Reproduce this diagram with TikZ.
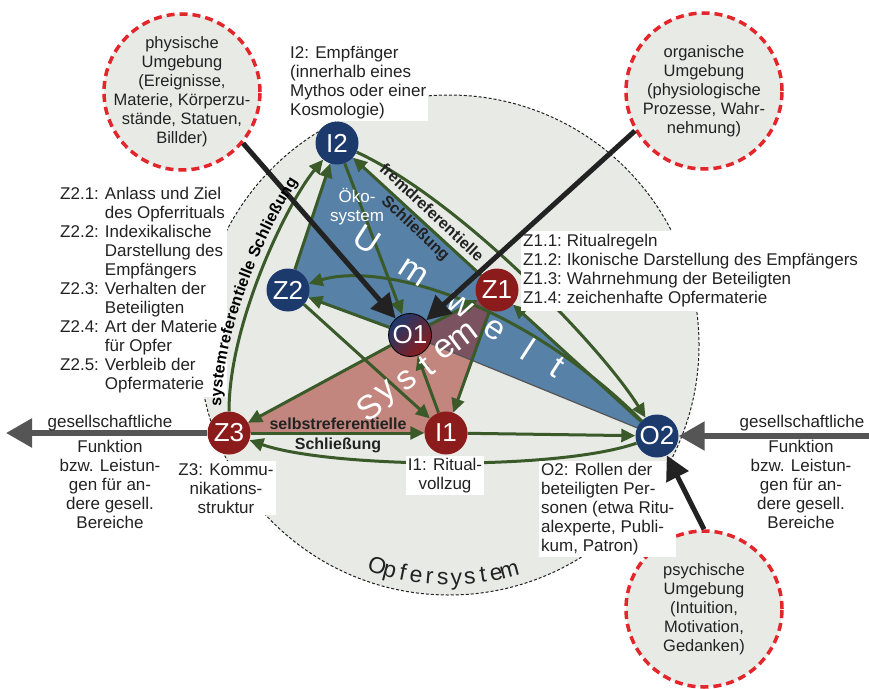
\documentclass[tikz,border=0pt]{standalone}
\usepackage{fontspec}
\setmainfont{Liberation Sans}
\usetikzlibrary{arrows.meta,calc,decorations.text}
\definecolor{nodeblue}{HTML}{1D3A6D}
\definecolor{nodered}{HTML}{8C1C1C}
\definecolor{arrowgreen}{HTML}{3A5A2A}
\definecolor{umweltblue}{HTML}{5781A7}
\definecolor{systemred}{HTML}{C2867E}
\definecolor{overlapred}{HTML}{7A5260}
\definecolor{bggrey}{HTML}{E8EAE6}
\definecolor{dashred}{HTML}{E3262B}
\definecolor{darkgrey}{HTML}{555555}
\definecolor{inkblack}{HTML}{222222}
\tikzstyle{sysnode} = [circle, minimum size=43pt, inner sep=0pt, text=white,
    font=\fontsize{26}{26}\selectfont]
\tikzstyle{envcircle} = [circle, draw=dashred, line width=3.5pt, dash pattern=on 8pt off 5pt,
    fill=bggrey, minimum size=156pt, inner sep=0pt]
\tikzstyle{envtext} = [align=center, text=inkblack, inner sep=0pt, font=\fontsize{16.5}{19}\selectfont]
\tikzstyle{flow} = [draw=arrowgreen, line width=3pt, -{Triangle[length=14pt,width=13pt]}]
\tikzstyle{envline} = [draw=inkblack, line width=5pt, -{Triangle[length=24pt,width=24pt]}]
\tikzstyle{funcline} = [draw=darkgrey, line width=5.5pt, -{Triangle[length=26pt,width=28pt]}]
\tikzstyle{labelbox} = [fill=white, inner sep=2pt, text=inkblack, font=\fontsize{17}{19}\selectfont]
\tikzstyle{sidetext} = [inner sep=2pt, text=inkblack, font=\fontsize{17}{19}\selectfont]
\tikzstyle{boldtext} = [inner sep=0pt, text=inkblack, font=\bfseries\fontsize{16}{20}\selectfont]
\tikzstyle{bigletter} = [text=white, inner sep=0pt, font=\fontsize{34}{34}\selectfont]
\tikzstyle{ringletter} = [text=inkblack, inner sep=0pt, font=\fontsize{23}{23}\selectfont]
\pgfdeclarelayer{bg}
\pgfsetlayers{bg,main}

\begin{document}
\begin{tikzpicture}[x=1pt,y=-1pt]
    \useasboundingbox (0,0) rectangle (869,688);
    % system nodes
    \node [sysnode, fill=nodeblue] (I2) at (337,143) {I2};
    \node [sysnode, fill=nodeblue] (Z2) at (288,290) {Z2};
    \node [sysnode, draw=black, line width=0.8pt, top color=nodeblue, bottom color=nodered,
        shading angle=45] (O1) at (410,335) {O1};
    \node [sysnode, fill=nodered] (Z1) at (497,290) {Z1};
    \node [sysnode, fill=nodered] (Z3) at (229,433) {Z3};
    \node [sysnode, fill=nodered] (I1) at (446,433) {I1};
    \node [sysnode, fill=nodeblue] (O2) at (657,436) {O2};
    % Opfersystem and the two regions
    \begin{pgfonlayer}{bg}
        \fill[bggrey] (449,345) circle (250pt);
        \draw[inkblack, line width=1pt, dash pattern=on 3pt off 2pt] (449,345) circle (250pt);
        \fill[umweltblue] (I2.center) -- (Z2.center) -- (O1.center) -- (O2.center) -- (Z1.center) -- cycle;
        \fill[systemred] (Z3.center) -- (O1.center) -- (Z1.center) -- (I1.center) -- cycle;
        \begin{scope}
            \clip (Z3.center) -- (O1.center) -- (Z1.center) -- (I1.center) -- cycle;
            \fill[overlapred] (I2.center) -- (Z2.center) -- (O1.center) -- (O2.center) -- (Z1.center) -- cycle;
        \end{scope}
        \draw[darkgrey, line width=1.2pt] (O1.center) -- (O2.center);
    \end{pgfonlayer}
    % Draw edges
    \draw[flow] (Z3) .. controls +(0,-110) and +(-50,60) .. (I2);
    \draw[flow] (Z2) -- (I2);
    \draw[flow] (I2) -- (O1);
    \draw[flow] (Z1) -- (I2);
    \draw[flow] (I2) .. controls (460,200) and (600,345) .. (O2);
    \draw[flow] (O2) .. controls (520,300) and (380,262) .. (Z2);
    \draw[flow] (O1) -- (Z2);
    \draw[flow] (Z2) -- (I1);
    \draw[flow] (O1) -- (Z1);
    \draw[flow] (O1) -- (Z3);
    \draw[flow] (I1) -- (O1);
    \draw[flow] (Z1) -- (I1);
    \draw[flow] (O2) -- (Z1);
    \draw[flow] (Z3) -- (I1);
    \draw[flow] (I1) -- (O2);
    \draw[flow] (O2) .. controls +(-100,35) and +(100,35) .. (Z3);
    % inner texts
    \node [text=white, align=center, font=\fontsize{17}{19}\selectfont] (oeko) at (357,207) {Öko-\\system};
    \foreach \ch/\px/\py in {U/367/240, m/413/273, w/460/306, e/494/330, l/528/349, t/557/367}
        \node [bigletter, rotate=-33] at (\px,\py) {\ch};
    \foreach \ch/\px/\py in {S/370/407, y/388/394, s/407/380, t/427/366, e/445/349, m/463/337}
        \node [bigletter, rotate=37] at (\px,\py) {\ch};
    \foreach \ch [count=\i] in {O,p,f,e,r,s,y,s,t,e,m} {
        \pgfmathsetmacro{\ang}{108-(\i-1)*3.3}
        \node [ringletter, rotate={90-\ang}, anchor=base] at ($(449,345)+(\ang:240)$) {\ch};
    }
    \node [boldtext, rotate=-43] (fremd) at (432,212) {fremdreferentielle};
    \node [boldtext, rotate=-43] (fremdS) at (415,229) {Schließung};
    \node [boldtext, align=center, anchor=north] (selbst) at (338,418) {selbstreferentielle\\Schließung};
    % environments
    \node [envcircle] (phys) at (182,92) {};
    \node [envtext] (physT) at (phys) {physische\\Umgebung\\(Ereignisse,\\Materie, Körperzu-\\stände, Statuen,\\Billder)};
    \node [envcircle] (org) at (704,91) {};
    \node [envtext] (orgT) at (org) {organische\\Umgebung\\(physiologische\\Prozesse, Wahr-\\nehmung)};
    \node [envcircle] (psych) at (704,609) {};
    \node [envtext] (psychT) at (psych) {psychische\\Umgebung\\(Intuition,\\Motivation,\\Gedanken)};
    % societal functions
    \coordinate (leftend) at (6,433);
    \coordinate (rightend) at (869,436);
    \draw[funcline] (Z3) -- (leftend);
    \draw[funcline] (rightend) -- (O2);
    \node [sidetext, anchor=base] (gesL) at (110,427) {gesellschaftliche};
    \node [sidetext, anchor=north, align=center] (funkL) at (110,438) {Funktion\\bzw. Leistun-\\gen für an-\\dere gesell.\\Bereiche};
    \node [sidetext, anchor=base] (gesR) at (802,427) {gesellschaftliche};
    \node [sidetext, anchor=north, align=center] (funkR) at (801,438) {Funktion\\bzw. Leistun-\\gen für an-\\dere gesell.\\Bereiche};
    % labels of the nodes
    \node [labelbox, anchor=north west, align=left] (I2lab) at (288,44) {I2: Empfänger\\(innerhalb eines\\Mythos oder einer\\Kosmologie)};
    \node [labelbox, anchor=north west] (Z2lab) at (58,184) {\begin{tabular}{@{}l@{\hspace{6pt}}l@{}}
        Z2.1: & Anlass und Ziel\\ & des Opferrituals\\
        Z2.2: & Indexikalische\\ & Darstellung des\\ & Empfängers\\
        Z2.3: & Verhalten der\\ & Beteiligten\\
        Z2.4: & Art der Materie\\ & für Opfer\\
        Z2.5: & Verbleib der\\ & Opfermaterie
        \end{tabular}};
    \node [labelbox, anchor=north west] (Z1lab) at (521,231) {\begin{tabular}{@{}l@{\hspace{5pt}}l@{}}
        Z1.1: & Ritualregeln\\
        Z1.2: & Ikonische Darstellung des Empfängers\\
        Z1.3: & Wahrnehmung der Beteiligten\\
        Z1.4: & zeichenhafte Opfermaterie
        \end{tabular}};
    \node [labelbox, anchor=north, align=center] (Z3lab) at (226,461) {Z3: Kommu-\\nikations-\\struktur};
    \node [labelbox, anchor=north, align=center] (I1lab) at (445,456) {I1: Ritual-\\vollzug};
    \node [labelbox, anchor=north west, align=left] (O2lab) at (539,461) {O2: Rollen der\\beteiligten Per-\\sonen (etwa Ritu-\\alexperte, Publi-\\kum, Patron)};
    % influences of the environments
    \draw[envline] (phys.-40) -- (O1);
    \draw[envline] (org.210) -- (O1);
    \draw[envline] (psych.north) -- (O2);
    % label along the left arc
    \path[postaction={decorate}, decoration={text along path, text align={left indent=4pt}, raise=8pt,
        text={|\bfseries\fontsize{16}{16}\selectfont|systemreferentielle Schließung}}]
        (Z3.north) .. controls +(0,-90) and +(-50,60) .. (I2);
\end{tikzpicture}
\end{document}
